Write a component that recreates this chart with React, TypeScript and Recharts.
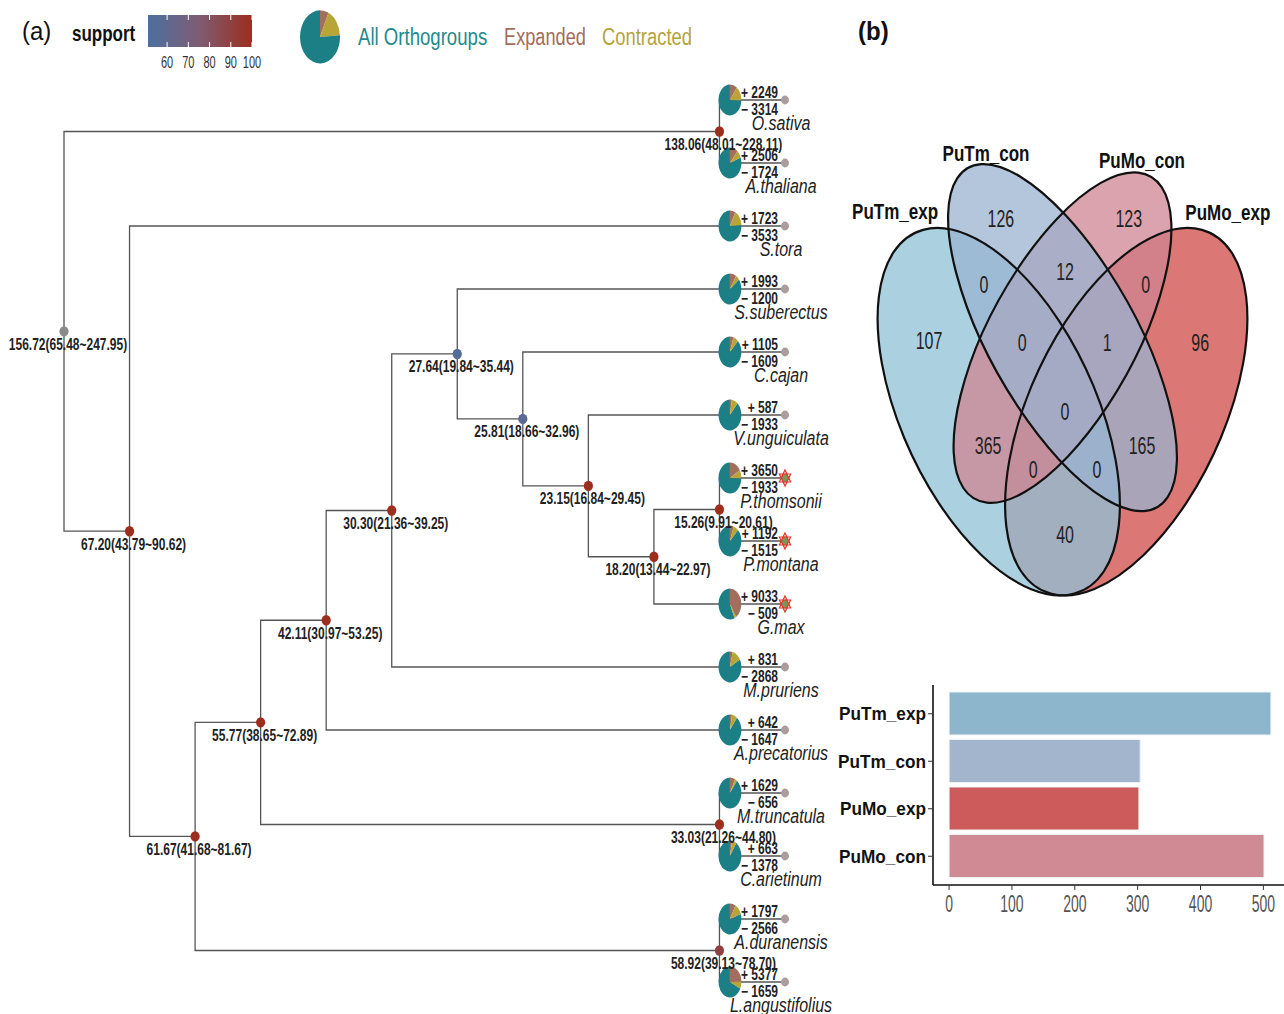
import React from 'react';
import {
  ComposedChart, Line, Scatter, XAxis, YAxis, Sector, BarChart, Bar, Cell, PieChart, Pie,
} from 'recharts';

const FONT = "'Liberation Sans', Arial, sans-serif";
const TEAL = '#1c7f86';
const BROWN = '#a36f5d';
const OLIVE = '#b7a637';

// ---------- tree (panel a) ----------
const tipNames = [
  'O.sativa', 'A.thaliana', 'S.tora', 'S.suberectus', 'C.cajan', 'V.unguiculata', 'P.thomsonii',
  'P.montana', 'G.max', 'M.pruriens', 'A.precatorius', 'M.truncatula', 'C.arietinum',
  'A.duranensis', 'L.angustifolius',
];
const expandedCounts = [2249, 2506, 1723, 1993, 1105, 587, 3650, 1192, 9033, 831, 642, 1629, 663, 1797, 5377];
const contractedCounts = [3314, 1724, 3533, 1200, 1609, 1933, 1933, 1515, 509, 2868, 1647, 656, 1378, 2566, 1659];
const starredTips = ['P.thomsonii', 'P.montana', 'G.max'];
const orthogroupTotal = 22000;

const nodeIds = ['root', 'A', 'B', 'C', 'D', 'E', 'F', 'G', 'H', 'I', 'J', 'K', 'L', 'M'];
const nodeChildren: Record<string, string[]> = {
  root: ['A', 'B'],
  A: ['O.sativa', 'A.thaliana'],
  B: ['S.tora', 'C'],
  C: ['D', 'E'],
  D: ['F', 'G'],
  E: ['A.duranensis', 'L.angustifolius'],
  F: ['H', 'A.precatorius'],
  G: ['M.truncatula', 'C.arietinum'],
  H: ['I', 'M.pruriens'],
  I: ['S.suberectus', 'J'],
  J: ['C.cajan', 'K'],
  K: ['V.unguiculata', 'L'],
  L: ['M', 'G.max'],
  M: ['P.thomsonii', 'P.montana'],
};
const nodeAge = [156.72, 138.06, 67.2, 61.67, 55.77, 58.92, 42.11, 33.03, 30.3, 27.64, 25.81, 23.15, 18.2, 15.26];
const nodeLow = [65.48, 48.01, 43.79, 41.68, 38.65, 39.13, 30.97, 21.26, 21.36, 19.84, 18.66, 16.84, 13.44, 9.91];
const nodeHigh = [247.95, 228.11, 90.62, 81.67, 72.89, 78.7, 53.25, 44.8, 39.25, 35.44, 32.96, 29.45, 22.97, 20.61];
const nodeSupport = [NaN, 100, 100, 100, 100, 90, 100, 100, 100, 55, 58, 100, 100, 100];

const supportTicks = [60, 70, 80, 90, 100];
const supportStops = [
  { v: 51, c: [76, 112, 160] },
  { v: 75, c: [126, 92, 116] },
  { v: 100, c: [156, 46, 30] },
];
const legendSlices = [7, 17, 76];

// ---------- venn (panel b) ----------
const vennSetNames = ['PuTm_exp', 'PuTm_con', 'PuMo_con', 'PuMo_exp'];
const vennColors = ['#8fc1d7', '#9ab3d0', '#cf8492', '#cf4a47'];
const vennCenterX = [0.35, 0.5, 0.5, 0.65];
const vennCenterY = [0.47, 0.585, 0.585, 0.47];
const vennMajor = [0.35, 0.35, 0.33, 0.35];
const vennMinor = [0.2, 0.15, 0.15, 0.2];
const vennAngle = [135, 135, 45, 45];
const vennDrawOrder = [3, 0, 2, 1];
const vennLabelX = [0.106, 0.32, 0.687, 0.889];
const vennLabelY = [0.781, 0.871, 0.86, 0.78];

const regionCounts = [107, 126, 123, 96, 0, 12, 0, 0, 1, 0, 365, 165, 0, 0, 40];
const regionX = [0.186, 0.355, 0.656, 0.824, 0.315, 0.506, 0.696, 0.405, 0.605, 0.506, 0.325, 0.687, 0.431, 0.581, 0.506];
const regionY = [0.58, 0.77, 0.77, 0.578, 0.668, 0.688, 0.668, 0.578, 0.578, 0.47, 0.418, 0.418, 0.38, 0.38, 0.279];

// ---------- bars (panel b) ----------
const barSets = ['PuTm_exp', 'PuTm_con', 'PuMo_exp', 'PuMo_con'];
const barTotals = [512, 304, 302, 501];
const barColors = ['#8db6cd', '#a2b5cc', '#cd5b5b', '#cf8a93'];
const barTicks = [0, 100, 200, 300, 400, 500];

// ---------- helpers ----------
const StretchText = ({ x, y, k = 1, children, ...rest }: any) => (
  <text transform={`translate(${x},${y}) scale(1,${k})`} fontFamily={FONT} {...rest}>
    {children}
  </text>
);

const supportColor = (s: number) => {
  if (!Number.isFinite(s)) return '#8a8a8a';
  const v = Math.max(supportStops[0].v, Math.min(100, s));
  for (let i = 0; i < supportStops.length - 1; i++) {
    const a = supportStops[i];
    const b = supportStops[i + 1];
    if (v <= b.v) {
      const t = (v - a.v) / (b.v - a.v);
      const c = a.c.map((ca, j) => Math.round(ca + (b.c[j] - ca) * t));
      return `rgb(${c.join(',')})`;
    }
  }
  return `rgb(${supportStops[supportStops.length - 1].c.join(',')})`;
};

// ggtree-like cladogram layout
const heightOf = (id: string): number =>
  nodeChildren[id] ? 1 + Math.max(...nodeChildren[id].map(heightOf)) : 0;
const treeDepth = heightOf('root');
const treePos: Record<string, { x: number; y: number }> = {};
const place = (id: string) => {
  const kids = nodeChildren[id];
  if (!kids) {
    treePos[id] = { x: treeDepth, y: tipNames.indexOf(id) };
    return;
  }
  kids.forEach(place);
  treePos[id] = {
    x: treeDepth - heightOf(id),
    y: kids.reduce((s, k) => s + treePos[k].y, 0) / kids.length,
  };
};
place('root');

const branchPaths = nodeIds.map((id) => {
  const p = treePos[id];
  const [a, b] = nodeChildren[id].map((k) => treePos[k]);
  return [
    { x: a.x, y: a.y },
    { x: p.x, y: a.y },
    { x: p.x, y: b.y },
    { x: b.x, y: b.y },
  ];
});

const nodePoints = nodeIds.map((id, i) => ({
  x: treePos[id].x,
  y: treePos[id].y,
  support: nodeSupport[i],
  label: `${nodeAge[i].toFixed(2)}(${nodeLow[i].toFixed(2)}~${nodeHigh[i].toFixed(2)})`,
}));

const PIE_SHIFT = 0.84;
const tipPoints = tipNames.map((name, i) => ({
  x: treePos[name].x,
  y: treePos[name].y,
  name,
  exp: expandedCounts[i],
  con: contractedCounts[i],
  starred: starredTips.includes(name),
}));
const piePoints = tipPoints.map((t) => ({ ...t, x: t.x - PIE_SHIFT }));

const NodeDot = (props: any) => {
  const { cx, cy, payload } = props;
  return (
    <g>
      <ellipse cx={cx} cy={cy} rx={4.6} ry={5.2} fill={supportColor(payload.support)} />
      <StretchText x={cx + 4} y={cy + 18.5} k={1.35} textAnchor="middle" fontSize={12} fontWeight="bold" fill="#222">
        {payload.label}
      </StretchText>
    </g>
  );
};

const TipPie = (props: any) => {
  const { cx, cy, payload } = props;
  const a1 = 90 - (360 * payload.exp) / orthogroupTotal;
  const a2 = a1 - (360 * payload.con) / orthogroupTotal;
  return (
    <g transform={`translate(${cx},${cy}) scale(0.88,1.19)`}>
      <Sector cx={0} cy={0} innerRadius={0} outerRadius={13} startAngle={a2} endAngle={-270} fill={TEAL} />
      <Sector cx={0} cy={0} innerRadius={0} outerRadius={13} startAngle={90} endAngle={a1} fill={BROWN} />
      <Sector cx={0} cy={0} innerRadius={0} outerRadius={13} startAngle={a1} endAngle={a2} fill={OLIVE} />
    </g>
  );
};

const triangle = (cx: number, cy: number, rx: number, ry: number, off: number) =>
  [0, 1, 2]
    .map((i) => {
      const a = ((off + i * 120) * Math.PI) / 180;
      return `${cx + rx * Math.cos(a)},${cy + ry * Math.sin(a)}`;
    })
    .join(' ');

const TipMark = (props: any) => {
  const { cx, cy, payload } = props;
  return (
    <g>
      {payload.starred ? (
        <g>
          <ellipse cx={cx} cy={cy} rx={3.6} ry={4.6} fill="#7a9856" />
          <polygon points={triangle(cx, cy, 6.5, 8, -90)} fill="none" stroke="#e3342b" strokeWidth={1.2} />
          <polygon points={triangle(cx, cy, 6.5, 8, 90)} fill="none" stroke="#e3342b" strokeWidth={1.2} />
        </g>
      ) : (
        <ellipse cx={cx} cy={cy} rx={4} ry={4.4} fill="#ab9d9d" />
      )}
      <StretchText x={cx - 7} y={cy - 2} k={1.3} textAnchor="end" fontSize={12} fontWeight="bold" fill="#222">
        {`+ ${payload.exp}`}
      </StretchText>
      <StretchText x={cx - 7} y={cy + 15} k={1.3} textAnchor="end" fontSize={12} fontWeight="bold" fill="#222">
        {`\u2212 ${payload.con}`}
      </StretchText>
      <StretchText x={cx - 4} y={cy + 30} k={1.22} textAnchor="middle" fontSize={16} fontStyle="italic" fill="#222">
        {payload.name}
      </StretchText>
    </g>
  );
};

// ---------- venn helpers ----------
const VENN_W = 425;
const VENN_H = 535;
const vennYDomain = [0.15, 0.98];
const vennSX = VENN_W;
const vennSY = VENN_H / (vennYDomain[1] - vennYDomain[0]);

const vennEllipses = vennDrawOrder.map((i) => ({
  x: vennCenterX[i],
  y: vennCenterY[i],
  a: vennMajor[i],
  b: vennMinor[i],
  rot: vennAngle[i],
  color: vennColors[i],
}));
const vennRegions = regionCounts.map((c, i) => ({ x: regionX[i], y: regionY[i], count: c }));
const vennLabels = vennSetNames.map((n, i) => ({ x: vennLabelX[i], y: vennLabelY[i], name: n }));

const VennFill = (props: any) => {
  const { cx, cy, payload } = props;
  return (
    <g transform={`translate(${cx},${cy}) scale(${vennSX},${-vennSY}) rotate(${payload.rot})`}>
      <ellipse cx={0} cy={0} rx={payload.a} ry={payload.b} fill={payload.color} fillOpacity={0.75} stroke="none" />
    </g>
  );
};
const VennLine = (props: any) => {
  const { cx, cy, payload } = props;
  return (
    <g transform={`translate(${cx},${cy}) scale(${vennSX},${-vennSY}) rotate(${payload.rot})`}>
      <ellipse
        cx={0}
        cy={0}
        rx={payload.a}
        ry={payload.b}
        fill="none"
        stroke="#111"
        strokeWidth={2.2}
        vectorEffect="non-scaling-stroke"
      />
    </g>
  );
};
const RegionText = (props: any) => {
  const { cx, cy, payload } = props;
  return (
    <StretchText x={cx} y={cy + 8.6} k={1.5} textAnchor="middle" fontSize={16} fill="#222">
      {payload.count}
    </StretchText>
  );
};
const SetText = (props: any) => {
  const { cx, cy, payload } = props;
  return (
    <StretchText x={cx} y={cy + 7.6} k={1.25} textAnchor="middle" fontSize={17} fontWeight="bold" fill="#111">
      {payload.name}
    </StretchText>
  );
};

// ---------- bar helpers ----------
const barData = barSets.map((name, i) => ({ name, value: barTotals[i] }));
const BarXTick = (props: any) => {
  const { x, y, payload } = props;
  return (
    <StretchText x={x} y={y + 20} k={1.75} textAnchor="middle" fontSize={14} fill="#555">
      {payload.value}
    </StretchText>
  );
};
const BarYTick = (props: any) => {
  const { x, y, payload } = props;
  return (
    <StretchText x={x} y={y + 6.5} k={1.1} textAnchor="end" fontSize={17.2} fontWeight="bold" fill="#111">
      {payload.value}
    </StretchText>
  );
};

// ---------- legend ----------
const CB_X = 148;
const CB_W = 104;
const cbPos = (v: number) => CB_X + ((v - supportStops[0].v) / (100 - supportStops[0].v)) * CB_W;
const legendPieData = legendSlices.map((v, i) => ({ name: ['Expanded', 'Contracted', 'All Orthogroups'][i], value: v }));
const legendPieColors = [BROWN, OLIVE, TEAL];

const TopLegend = () => (
  <svg width={720} height={80} style={{ position: 'absolute', left: 0, top: 0 }}>
    <defs>
      <linearGradient id="supportGrad" x1="0" x2="1" y1="0" y2="0">
        {supportStops.map((s) => (
          <stop
            key={s.v}
            offset={(s.v - supportStops[0].v) / (100 - supportStops[0].v)}
            stopColor={`rgb(${s.c.join(',')})`}
          />
        ))}
      </linearGradient>
    </defs>
    <StretchText x={22} y={40} k={1.05} fontSize={24} fill="#111">(a)</StretchText>
    <StretchText x={72} y={41} k={1.3} fontSize={17} fontWeight="bold" fill="#111">support</StretchText>
    <rect x={CB_X} y={15} width={CB_W} height={32} fill="url(#supportGrad)" />
    {supportTicks.map((t) => (
      <g key={t}>
        <line x1={cbPos(t)} x2={cbPos(t)} y1={15} y2={20} stroke="#fff" strokeWidth={1} />
        <line x1={cbPos(t)} x2={cbPos(t)} y1={42} y2={47} stroke="#fff" strokeWidth={1} />
        <StretchText x={cbPos(t)} y={68} k={1.5} textAnchor="middle" fontSize={11} fill="#333">{t}</StretchText>
      </g>
    ))}
    <StretchText x={358} y={45} k={1.3} fontSize={18.6} fill="#1f8a8d">All Orthogroups</StretchText>
    <StretchText x={504} y={45} k={1.3} fontSize={18.2} fill="#a46d5a">Expanded</StretchText>
    <StretchText x={602} y={45} k={1.3} fontSize={18.4} fill="#b4a33a">Contracted</StretchText>
  </svg>
);

export default function App() {
  return (
    <div
      style={{
        position: 'absolute',
        left: 0,
        top: 0,
        width: 1284,
        height: 1014,
        background: '#fff',
        overflow: 'hidden',
        fontFamily: FONT,
      }}
    >
      <TopLegend />
      <div style={{ position: 'absolute', left: 299, top: 9, transform: 'scale(1,1.33)', transformOrigin: 'top left' }}>
        <PieChart width={42} height={42} margin={{ top: 0, right: 0, bottom: 0, left: 0 }}>
          <Pie
            data={legendPieData}
            dataKey="value"
            cx={21}
            cy={21}
            outerRadius={20}
            startAngle={90}
            endAngle={-270}
            stroke="none"
            isAnimationActive={false}
          >
            {legendPieData.map((d, i) => (
              <Cell key={d.name} fill={legendPieColors[i]} />
            ))}
          </Pie>
        </PieChart>
      </div>

      <div style={{ position: 'absolute', left: 0, top: 0 }}>
        <ComposedChart width={840} height={1014} margin={{ top: 100, right: 55, bottom: 32, left: 64 }}>
          <XAxis type="number" dataKey="x" domain={[0, treeDepth]} hide />
          <YAxis type="number" dataKey="y" domain={[0, tipNames.length - 1]} reversed hide />
          {branchPaths.map((pts, i) => (
            <Line
              key={`br${i}`}
              data={pts}
              dataKey="y"
              type="linear"
              stroke="#555"
              strokeWidth={1.3}
              dot={false}
              activeDot={false}
              legendType="none"
              isAnimationActive={false}
            />
          ))}
          <Scatter data={piePoints} shape={<TipPie />} isAnimationActive={false} />
          <Scatter data={tipPoints} shape={<TipMark />} isAnimationActive={false} />
          <Scatter data={nodePoints} shape={<NodeDot />} isAnimationActive={false} />
        </ComposedChart>
      </div>

      <svg width={60} height={50} style={{ position: 'absolute', left: 850, top: 8 }}>
        <StretchText x={8} y={32} k={1.05} fontSize={24} fontWeight="bold" fill="#111">(b)</StretchText>
      </svg>

      <div style={{ position: 'absolute', left: 850, top: 83 }}>
        <ComposedChart width={VENN_W} height={VENN_H} margin={{ top: 0, right: 0, bottom: 0, left: 0 }}>
          <XAxis type="number" dataKey="x" domain={[0, 1]} hide />
          <YAxis type="number" dataKey="y" domain={vennYDomain} hide />
          <Scatter data={vennEllipses} shape={<VennFill />} isAnimationActive={false} />
          <Scatter data={vennEllipses} shape={<VennLine />} isAnimationActive={false} />
          <Scatter data={vennRegions} shape={<RegionText />} isAnimationActive={false} />
          <Scatter data={vennLabels} shape={<SetText />} isAnimationActive={false} />
        </ComposedChart>
      </div>

      <div style={{ position: 'absolute', left: 830, top: 680 }}>
        <BarChart
          layout="vertical"
          width={457}
          height={250}
          data={barData}
          margin={{ top: 5, right: 0, bottom: 15, left: 0 }}
        >
          <XAxis
            type="number"
            domain={[-25.6, 537.6]}
            ticks={barTicks}
            allowDataOverflow
            axisLine={{ stroke: '#111', strokeWidth: 1.6 }}
            tickLine={{ stroke: '#333' }}
            tickSize={5}
            tick={<BarXTick />}
            interval={0}
          />
          <YAxis
            type="category"
            dataKey="name"
            width={103}
            padding={{ top: 5, bottom: 5 }}
            axisLine={{ stroke: '#111', strokeWidth: 1.6 }}
            tickLine={{ stroke: '#333' }}
            tickSize={5}
            tick={<BarYTick />}
            interval={0}
          />
          <Bar dataKey="value" barSize={43} stroke="#eef2f5" strokeWidth={1} isAnimationActive={false}>
            {barData.map((d, i) => (
              <Cell key={d.name} fill={barColors[i]} />
            ))}
          </Bar>
        </BarChart>
      </div>
    </div>
  );
}
